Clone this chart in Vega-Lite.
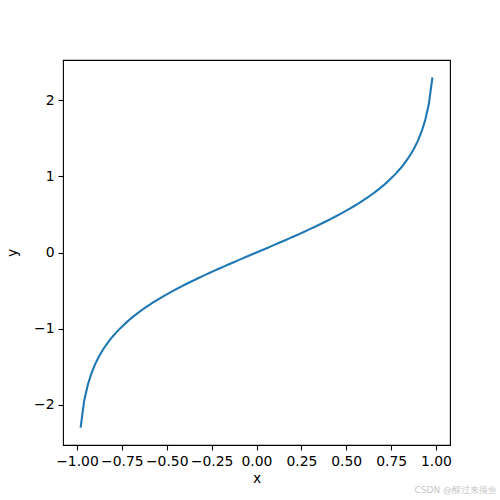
{
  "$schema": "https://vega.github.io/schema/vega-lite/v6.json",
  "width": 387,
  "height": 385,
  "autosize": {"type": "none"},
  "padding": {"left": 63, "top": 60, "right": 50, "bottom": 55},
  "background": "white",
  "config": {
    "view": {"stroke": "black", "strokeWidth": 1.1},
    "font": "DejaVu Sans",
    "axis": {
      "grid": false,
      "domain": false,
      "tickColor": "black",
      "tickWidth": 1.1,
      "tickSize": 5,
      "labelPadding": 4,
      "labelFont": "DejaVu Sans",
      "labelFontSize": 13.9,
      "labelColor": "black",
      "titleFont": "DejaVu Sans",
      "titleFontSize": 13.9,
      "titleFontWeight": "normal",
      "titleColor": "black"
    }
  },
  "title": {
    "text": "CSDN @醒过来摸鱼",
    "orient": "bottom",
    "anchor": "end",
    "frame": "group",
    "fontSize": 9,
    "fontWeight": "normal",
    "color": "#c8c8c8",
    "font": "DejaVu Sans",
    "dx": 47,
    "offset": 0
  },
  "data": {
    "values": [
      {"x": -0.98, "y": -2.29756},
      {"x": -0.96, "y": -1.94591},
      {"x": -0.94, "y": -1.73805},
      {"x": -0.92, "y": -1.58903},
      {"x": -0.90, "y": -1.47222},
      {"x": -0.88, "y": -1.37577},
      {"x": -0.86, "y": -1.29334},
      {"x": -0.84, "y": -1.22117},
      {"x": -0.82, "y": -1.15682},
      {"x": -0.80, "y": -1.09861},
      {"x": -0.78, "y": -1.04520},
      {"x": -0.76, "y": -0.99617},
      {"x": -0.74, "y": -0.95048},
      {"x": -0.72, "y": -0.90764},
      {"x": -0.70, "y": -0.86730},
      {"x": -0.68, "y": -0.82915},
      {"x": -0.66, "y": -0.79282},
      {"x": -0.64, "y": -0.75817},
      {"x": -0.62, "y": -0.72501},
      {"x": -0.60, "y": -0.69315},
      {"x": -0.58, "y": -0.66246},
      {"x": -0.56, "y": -0.63283},
      {"x": -0.54, "y": -0.60416},
      {"x": -0.52, "y": -0.57634},
      {"x": -0.50, "y": -0.54931},
      {"x": -0.48, "y": -0.52298},
      {"x": -0.46, "y": -0.49731},
      {"x": -0.44, "y": -0.47223},
      {"x": -0.42, "y": -0.44769},
      {"x": -0.40, "y": -0.42365},
      {"x": -0.38, "y": -0.40006},
      {"x": -0.36, "y": -0.37689},
      {"x": -0.34, "y": -0.35409},
      {"x": -0.32, "y": -0.33165},
      {"x": -0.30, "y": -0.30952},
      {"x": -0.28, "y": -0.28768},
      {"x": -0.26, "y": -0.26611},
      {"x": -0.24, "y": -0.24477},
      {"x": -0.22, "y": -0.22366},
      {"x": -0.20, "y": -0.20273},
      {"x": -0.18, "y": -0.18198},
      {"x": -0.16, "y": -0.16139},
      {"x": -0.14, "y": -0.14093},
      {"x": -0.12, "y": -0.12058},
      {"x": -0.10, "y": -0.10034},
      {"x": -0.08, "y": -0.08017},
      {"x": -0.06, "y": -0.06007},
      {"x": -0.04, "y": -0.04002},
      {"x": -0.02, "y": -0.02000},
      {"x": 0.00, "y": 0.0},
      {"x": 0.02, "y": 0.02000},
      {"x": 0.04, "y": 0.04002},
      {"x": 0.06, "y": 0.06007},
      {"x": 0.08, "y": 0.08017},
      {"x": 0.10, "y": 0.10034},
      {"x": 0.12, "y": 0.12058},
      {"x": 0.14, "y": 0.14093},
      {"x": 0.16, "y": 0.16139},
      {"x": 0.18, "y": 0.18198},
      {"x": 0.20, "y": 0.20273},
      {"x": 0.22, "y": 0.22366},
      {"x": 0.24, "y": 0.24477},
      {"x": 0.26, "y": 0.26611},
      {"x": 0.28, "y": 0.28768},
      {"x": 0.30, "y": 0.30952},
      {"x": 0.32, "y": 0.33165},
      {"x": 0.34, "y": 0.35409},
      {"x": 0.36, "y": 0.37689},
      {"x": 0.38, "y": 0.40006},
      {"x": 0.40, "y": 0.42365},
      {"x": 0.42, "y": 0.44769},
      {"x": 0.44, "y": 0.47223},
      {"x": 0.46, "y": 0.49731},
      {"x": 0.48, "y": 0.52298},
      {"x": 0.50, "y": 0.54931},
      {"x": 0.52, "y": 0.57634},
      {"x": 0.54, "y": 0.60416},
      {"x": 0.56, "y": 0.63283},
      {"x": 0.58, "y": 0.66246},
      {"x": 0.60, "y": 0.69315},
      {"x": 0.62, "y": 0.72501},
      {"x": 0.64, "y": 0.75817},
      {"x": 0.66, "y": 0.79282},
      {"x": 0.68, "y": 0.82915},
      {"x": 0.70, "y": 0.86730},
      {"x": 0.72, "y": 0.90764},
      {"x": 0.74, "y": 0.95048},
      {"x": 0.76, "y": 0.99617},
      {"x": 0.78, "y": 1.04520},
      {"x": 0.80, "y": 1.09861},
      {"x": 0.82, "y": 1.15682},
      {"x": 0.84, "y": 1.22117},
      {"x": 0.86, "y": 1.29334},
      {"x": 0.88, "y": 1.37577},
      {"x": 0.90, "y": 1.47222},
      {"x": 0.92, "y": 1.58903},
      {"x": 0.94, "y": 1.73805},
      {"x": 0.96, "y": 1.94591},
      {"x": 0.98, "y": 2.29756}
    ]
  },
  "mark": {"type": "line", "color": "#1f77b4", "strokeWidth": 2.1, "clip": true},
  "encoding": {
    "x": {
      "field": "x",
      "type": "quantitative",
      "title": "x",
      "scale": {"domain": [-1.078, 1.078], "nice": false, "zero": false},
      "axis": {"values": [-1, -0.75, -0.5, -0.25, 0, 0.25, 0.5, 0.75, 1], "format": ".2f", "titlePadding": 4}
    },
    "y": {
      "field": "y",
      "type": "quantitative",
      "title": "y",
      "scale": {"domain": [-2.527, 2.527], "nice": false, "zero": false},
      "axis": {"values": [-2, -1, 0, 1, 2], "format": "d", "titlePadding": 14}
    }
  }
}
